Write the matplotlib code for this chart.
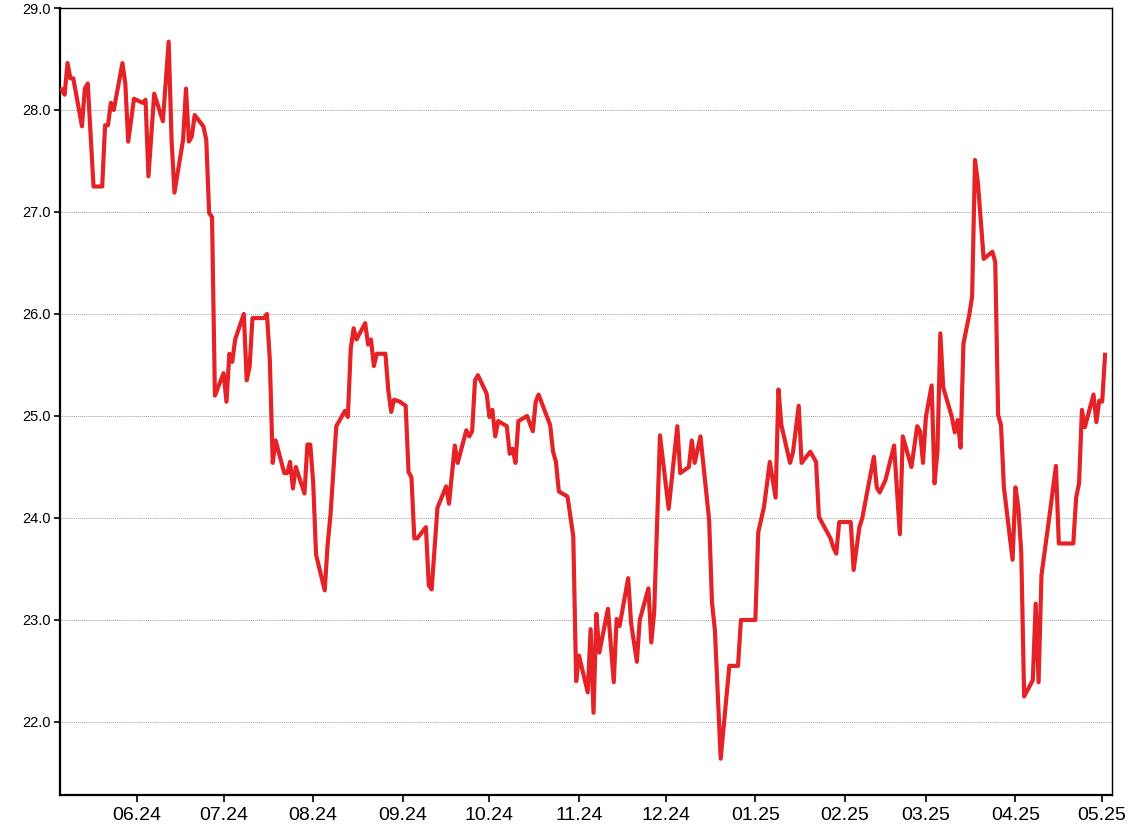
import matplotlib
matplotlib.use("Agg")
import matplotlib.pyplot as plt
import matplotlib.dates as mdates
import pandas as pd

# dates and prices
dates = [
    "2024-05-06", "2024-05-07", "2024-05-08", "2024-05-09", "2024-05-10", "2024-05-13",
    "2024-05-14", "2024-05-15", "2024-05-17", "2024-05-20", "2024-05-21", "2024-05-22",
    "2024-05-23", "2024-05-24", "2024-05-27", "2024-05-28", "2024-05-29", "2024-05-31",
    "2024-06-03", "2024-06-04", "2024-06-05", "2024-06-07", "2024-06-10", "2024-06-12",
    "2024-06-13", "2024-06-14", "2024-06-17", "2024-06-18", "2024-06-19", "2024-06-20",
    "2024-06-21", "2024-06-24", "2024-06-25", "2024-06-26", "2024-06-27", "2024-06-28",
    "2024-07-01", "2024-07-02", "2024-07-03", "2024-07-04", "2024-07-05", "2024-07-08",
    "2024-07-09", "2024-07-10", "2024-07-11", "2024-07-15", "2024-07-16", "2024-07-17",
    "2024-07-18", "2024-07-19", "2024-07-22", "2024-07-23", "2024-07-24", "2024-07-25",
    "2024-07-26", "2024-07-29", "2024-07-30", "2024-07-31", "2024-08-01", "2024-08-02",
    "2024-08-05", "2024-08-06", "2024-08-07", "2024-08-09", "2024-08-12", "2024-08-13",
    "2024-08-14", "2024-08-15", "2024-08-16", "2024-08-19", "2024-08-20", "2024-08-21",
    "2024-08-22", "2024-08-23", "2024-08-26", "2024-08-27", "2024-08-28", "2024-08-29",
    "2024-08-31", "2024-09-02", "2024-09-03", "2024-09-04", "2024-09-05", "2024-09-06",
    "2024-09-09", "2024-09-10", "2024-09-11", "2024-09-13", "2024-09-16", "2024-09-17",
    "2024-09-19", "2024-09-20", "2024-09-23", "2024-09-24", "2024-09-25", "2024-09-26",
    "2024-09-27", "2024-09-30", "2024-10-01", "2024-10-02", "2024-10-03", "2024-10-04",
    "2024-10-07", "2024-10-08", "2024-10-09", "2024-10-10", "2024-10-11", "2024-10-14",
    "2024-10-16", "2024-10-17", "2024-10-18", "2024-10-22", "2024-10-23", "2024-10-24",
    "2024-10-25", "2024-10-28", "2024-10-30", "2024-10-31", "2024-11-01", "2024-11-04",
    "2024-11-05", "2024-11-06", "2024-11-07", "2024-11-08", "2024-11-11", "2024-11-13",
    "2024-11-14", "2024-11-15", "2024-11-18", "2024-11-19", "2024-11-21", "2024-11-22",
    "2024-11-25", "2024-11-26", "2024-11-27", "2024-11-29", "2024-12-02", "2024-12-05",
    "2024-12-06", "2024-12-09", "2024-12-10", "2024-12-11", "2024-12-13", "2024-12-16",
    "2024-12-17", "2024-12-18", "2024-12-20", "2024-12-23", "2024-12-26", "2024-12-27",
    "2025-01-01", "2025-01-02", "2025-01-04", "2025-01-06", "2025-01-08", "2025-01-09",
    "2025-01-10", "2025-01-13", "2025-01-14", "2025-01-16", "2025-01-17", "2025-01-20",
    "2025-01-22", "2025-01-23", "2025-01-27", "2025-01-28", "2025-01-29", "2025-01-30",
    "2025-02-03", "2025-02-04", "2025-02-06", "2025-02-07", "2025-02-11", "2025-02-12",
    "2025-02-13", "2025-02-15", "2025-02-18", "2025-02-20", "2025-02-21", "2025-02-24",
    "2025-02-26", "2025-02-27", "2025-02-28", "2025-03-01", "2025-03-03", "2025-03-04",
    "2025-03-05", "2025-03-06", "2025-03-07", "2025-03-10", "2025-03-11", "2025-03-12",
    "2025-03-13", "2025-03-14", "2025-03-16", "2025-03-17", "2025-03-18", "2025-03-19",
    "2025-03-21", "2025-03-24", "2025-03-25", "2025-03-26", "2025-03-27", "2025-03-28",
    "2025-03-31", "2025-04-01", "2025-04-02", "2025-04-03", "2025-04-04", "2025-04-07",
    "2025-04-08", "2025-04-09", "2025-04-10", "2025-04-13", "2025-04-15", "2025-04-16",
    "2025-04-21", "2025-04-22", "2025-04-23", "2025-04-24", "2025-04-25", "2025-04-28",
    "2025-04-29", "2025-04-30", "2025-05-01", "2025-05-02",
]

prices = [
    28.20, 28.15, 28.46, 28.31, 28.31, 27.84,
    28.21, 28.26, 27.25, 27.25, 27.85, 27.85,
    28.07, 28.00, 28.46, 28.26, 27.69, 28.11,
    28.07, 28.10, 27.35, 28.16, 27.89, 28.67,
    27.71, 27.19, 27.71, 28.21, 27.69, 27.74,
    27.95, 27.84, 27.71, 26.99, 26.95, 25.20,
    25.42, 25.14, 25.61, 25.53, 25.75, 26.00,
    25.35, 25.48, 25.96, 25.96, 26.00, 25.55,
    24.54, 24.76, 24.44, 24.44, 24.55, 24.29,
    24.50, 24.24, 24.72, 24.72, 24.35, 23.64,
    23.29, 23.74, 24.03, 24.90, 25.05, 24.99,
    25.66, 25.86, 25.75, 25.91, 25.70, 25.75,
    25.49, 25.61, 25.61, 25.25, 25.04, 25.16,
    25.14, 25.10, 24.45, 24.40, 23.80, 23.80,
    23.91, 23.34, 23.30, 24.10, 24.31, 24.14,
    24.71, 24.54, 24.86, 24.80, 24.85, 25.35,
    25.40, 25.22, 24.99, 25.06, 24.80, 24.95,
    24.90, 24.63, 24.68, 24.54, 24.95, 25.00,
    24.85, 25.14, 25.21, 24.91, 24.65, 24.55,
    24.26, 24.21, 23.82, 22.40, 22.65, 22.29,
    22.91, 22.09, 23.06, 22.68, 23.11, 22.39,
    23.01, 22.94, 23.41, 22.97, 22.59, 23.00,
    23.31, 22.78, 23.08, 24.81, 24.09, 24.90,
    24.44, 24.50, 24.76, 24.54, 24.80, 23.98,
    23.17, 22.90, 21.64, 22.55, 22.55, 23.00,
    23.00, 23.86, 24.11, 24.55, 24.20, 25.26,
    24.91, 24.54, 24.64, 25.10, 24.54, 24.65,
    24.55, 24.01, 23.80, 23.71, 23.65, 23.96,
    23.96, 23.49, 23.91, 24.00, 24.60, 24.30,
    24.25, 24.37, 24.71, 23.84, 24.80, 24.50,
    24.90, 24.85, 24.54, 24.99, 25.30, 24.34,
    24.65, 25.81, 25.28, 24.99, 24.84, 24.96,
    24.69, 25.71, 25.99, 26.17, 27.51, 27.29,
    26.54, 26.61, 26.51, 25.01, 24.91, 24.30,
    23.59, 24.30, 24.10, 23.66, 22.25, 22.41,
    23.16, 22.39, 23.44, 24.07, 24.51, 23.75,
    23.75, 24.20, 24.34, 25.06, 24.89, 25.21,
    24.94, 25.15, 25.14, 25.60,
]

y_ticks = [22.0, 23.0, 24.0, 25.0, 26.0, 27.0, 28.0, 29.0]

x = pd.to_datetime(dates)

plt.rcParams['font.family'] = ['Liberation Sans', 'DejaVu Sans']

fig = plt.figure(figsize=(11.28, 8.36), dpi=100)
ax = fig.add_axes([60 / 1128, 1 - 795 / 836, 1052 / 1128, 787 / 836])

ax.plot(x, prices, color='#e52226', linewidth=3.0, solid_joinstyle='round', zorder=3)

# axis limits
start = mdates.date2num(pd.Timestamp("2024-06-01"))
ax.set_xlim(start - 26.6, start + 337.4)
ax.set_ylim(21.284, 29.0)

ax.set_yticks(y_ticks)
ax.yaxis.set_major_formatter(matplotlib.ticker.FormatStrFormatter('%.1f'))
ax.xaxis.set_major_locator(mdates.MonthLocator())
ax.xaxis.set_major_formatter(mdates.DateFormatter('%m.%y'))

ax.tick_params(axis='y', labelsize=10.5, length=4, width=1.2, pad=3, colors='black')
ax.tick_params(axis='x', labelsize=14, length=5, width=1.2, pad=4, colors='black')

ax.grid(axis='y', color='#a0a0a0', linestyle=(0, (1, 1)), linewidth=0.7)
ax.grid(axis='x', visible=False)

ax.spines['left'].set_linewidth(1.6)
ax.spines['bottom'].set_linewidth(1.6)
ax.spines['top'].set_linewidth(1.0)
ax.spines['right'].set_linewidth(1.0)

fig.savefig("out.png", dpi=100)
